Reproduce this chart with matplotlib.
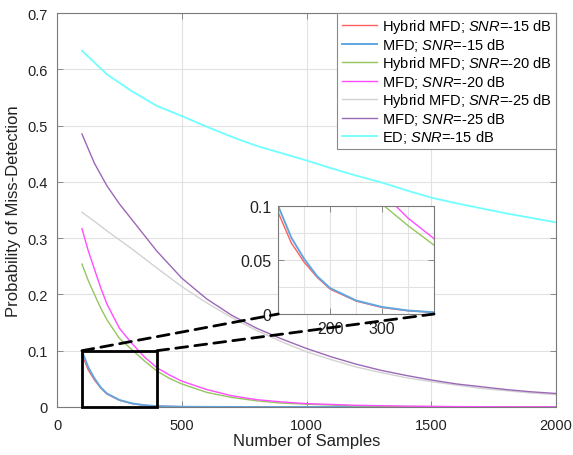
import matplotlib
matplotlib.use("Agg")
import matplotlib.pyplot as plt
from matplotlib.patches import Rectangle, ConnectionPatch
from matplotlib.ticker import MultipleLocator

plt.rcParams['font.family'] = ['Liberation Sans', 'DejaVu Sans']
plt.rcParams['mathtext.fontset'] = 'custom'
plt.rcParams['mathtext.rm'] = 'Liberation Sans'
plt.rcParams['mathtext.it'] = 'Liberation Sans:italic'

# ---------------- data ----------------
x_15 = [100, 125, 150, 175, 200, 250, 300, 350, 400, 500, 600, 800, 1000, 1500, 2000]
hyb_15 = [0.094, 0.066, 0.048, 0.034, 0.023, 0.012, 0.006, 0.003, 0.0015, 0.0005, 0.0002, 0.0, 0.0, 0.0, 0.0]
mfd_15 = [0.100, 0.071, 0.051, 0.035, 0.024, 0.0125, 0.0065, 0.0032, 0.0016, 0.0005, 0.0002, 0.0, 0.0, 0.0, 0.0]

x_20 = [100, 125, 150, 175, 200, 250, 300, 350, 400, 450, 500, 600, 700, 800, 900, 1000,
        1200, 1400, 1600, 1800, 2000]
hyb_20 = [0.254, 0.225, 0.200, 0.176, 0.155, 0.122, 0.102, 0.082, 0.064, 0.051, 0.041, 0.026,
          0.017, 0.011, 0.007, 0.005, 0.002, 0.001, 0.0005, 0.0002, 0.0001]
mfd_20 = [0.317, 0.278, 0.245, 0.212, 0.183, 0.140, 0.113, 0.089, 0.070, 0.057, 0.046, 0.031,
          0.020, 0.013, 0.009, 0.006, 0.003, 0.0015, 0.0007, 0.0003, 0.0002]

x_25 = [100, 150, 200, 250, 300, 400, 500, 600, 700, 800, 900, 1000, 1100, 1200, 1300, 1400,
        1500, 1600, 1700, 1800, 1900, 2000]
hyb_25 = [0.346, 0.330, 0.313, 0.297, 0.281, 0.247, 0.214, 0.185, 0.159, 0.136, 0.116, 0.098,
          0.084, 0.071, 0.061, 0.052, 0.045, 0.039, 0.033, 0.029, 0.025, 0.022]
mfd_25 = [0.485, 0.433, 0.393, 0.361, 0.333, 0.277, 0.229, 0.192, 0.163, 0.140, 0.121, 0.104,
          0.089, 0.076, 0.065, 0.056, 0.048, 0.041, 0.036, 0.031, 0.027, 0.024]

x_ed = [100, 200, 300, 400, 500, 600, 700, 800, 900, 1000, 1100, 1200, 1300, 1400, 1500,
        1600, 1700, 1800, 1900, 2000]
ed_15 = [0.633, 0.591, 0.561, 0.535, 0.517, 0.498, 0.480, 0.464, 0.451, 0.438, 0.424, 0.411,
         0.399, 0.385, 0.372, 0.362, 0.353, 0.344, 0.336, 0.328]

labels = [r"Hybrid MFD; $\mathit{SNR}$=-15 dB", r"MFD; $\mathit{SNR}$=-15 dB",
          r"Hybrid MFD; $\mathit{SNR}$=-20 dB", r"MFD; $\mathit{SNR}$=-20 dB",
          r"Hybrid MFD; $\mathit{SNR}$=-25 dB", r"MFD; $\mathit{SNR}$=-25 dB",
          r"ED; $\mathit{SNR}$=-15 dB"]

series = [(x_15, hyb_15, '#ff5e5e', 1.0),
          (x_15, mfd_15, '#62a6e0', 1.4),
          (x_20, hyb_20, '#94c65e', 1.0),
          (x_20, mfd_20, '#ff4cff', 1.0),
          (x_25, hyb_25, '#d2d2d2', 1.0),
          (x_25, mfd_25, '#9b68b8', 1.0),
          (x_ed, ed_15, '#70ffff', 1.3)]

# ---------------- figure ----------------
W, H = 573, 456
fig = plt.figure(figsize=(W / 100, H / 100), dpi=100)
ax = fig.add_axes([57 / W, 48 / H, 499 / W, 394 / H])

def style(a, size):
    a.grid(True, color='#e2e2e2', linewidth=0.8)
    a.set_axisbelow(True)
    for s in a.spines.values():
        s.set_color('#7a7a7a')
        s.set_linewidth(0.8)
    a.tick_params(direction='in', length=4, width=0.6, color='#7a7a7a',
                  top=True, right=True, labelsize=size, labelcolor='#222222')

for (xs, ys, c, lw), lab in zip(series, labels):
    ax.plot(xs, ys, color=c, linewidth=lw, label=lab)

ax.set_xlim(0, 2000)
ax.set_ylim(0, 0.7)
ax.set_xticks([0, 500, 1000, 1500, 2000])
ax.set_yticks([0, 0.1, 0.2, 0.3, 0.4, 0.5, 0.6, 0.7])
ax.set_yticklabels(['0', '0.1', '0.2', '0.3', '0.4', '0.5', '0.6', '0.7'])
style(ax, 10.5)
ax.tick_params(axis='x', pad=8)
ax.tick_params(axis='y', pad=6.5)
ax.set_xlabel('Number of Samples', fontsize=12, color='#222222')
ax.set_ylabel('Probability of Miss-Detection', fontsize=12, color='#222222')
ax.xaxis.set_label_coords(0.5, -(434 - 408) / 394)
ax.yaxis.set_label_coords(-(57 - 21) / 499, 0.5)

leg = ax.legend(loc='upper right', borderaxespad=0, fontsize=10.5, frameon=True,
                fancybox=False, framealpha=1, edgecolor='#8a8a8a',
                handlelength=2.4, handletextpad=0.35, labelspacing=0.06,
                borderpad=0.3)
leg.get_frame().set_linewidth(0.8)

# zoom rectangle
ax.add_patch(Rectangle((100, 0), 300, 0.1, fill=False, edgecolor='black',
                       linewidth=2, zorder=5, clip_on=False))

# inset
ins = fig.add_axes([278.3 / W, (H - 315) / H, (434 - 278.3) / W, (315 - 207.3) / H])
for (xs, ys, c, lw), lab in zip(series, labels):
    ins.plot(xs, ys, color=c, linewidth=lw)
ins.set_xlim(100, 400)
ins.set_ylim(0, 0.1)
ins.set_xticks([200, 300])
ins.set_yticks([0, 0.05, 0.1])
ins.set_yticklabels(['0', '0.05', '0.1'])
ins.xaxis.set_minor_locator(MultipleLocator(50))
ins.yaxis.set_minor_locator(MultipleLocator(0.025))
style(ins, 11.5)
ins.grid(True, which='minor', color='#e2e2e2', linewidth=0.8)
ins.tick_params(which='minor', length=0)
ins.tick_params(axis='x', pad=5)
ins.tick_params(axis='y', pad=5)

# dashed connectors
for (xa, ya), (xb, yb) in [((100, 0.1), (100, 0)), ((400, 0.1), (400, 0))]:
    cp = ConnectionPatch(xyA=(xa, ya), coordsA=ax.transData,
                         xyB=(xb, yb), coordsB=ins.transData,
                         color='black', linewidth=2, linestyle=(0, (4.3, 2.6)), zorder=10)
    fig.add_artist(cp)

fig.savefig('out.png', dpi=100)
